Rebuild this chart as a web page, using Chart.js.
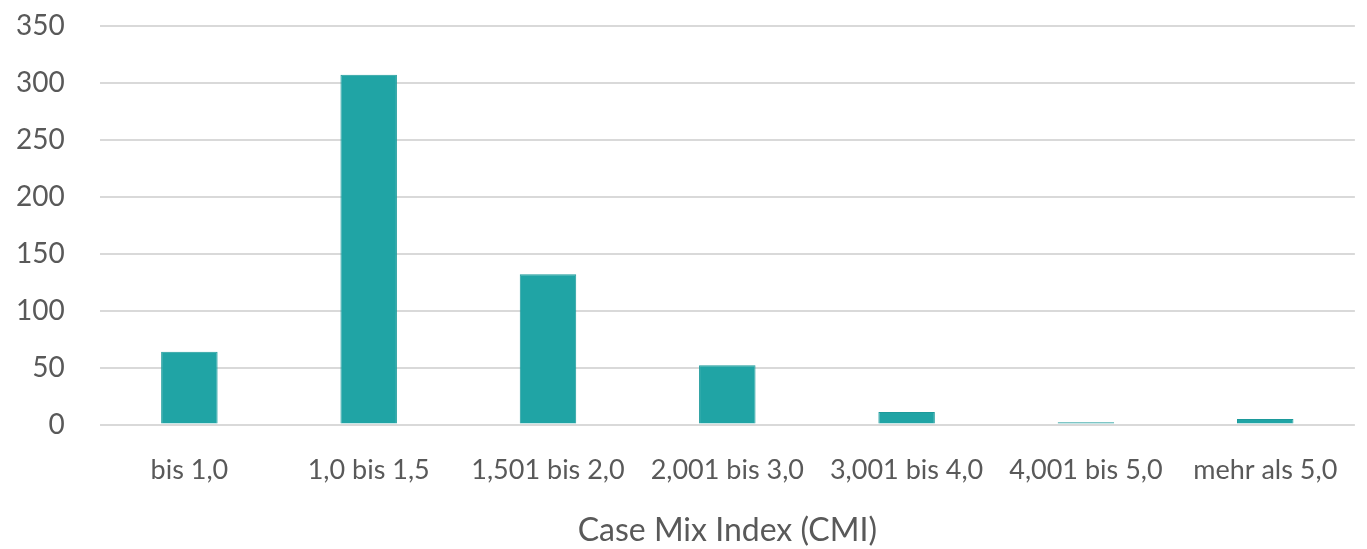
<!DOCTYPE html>
<html>
<head>
<meta charset="utf-8">
<script src="https://cdn.jsdelivr.net/npm/chart.js@4/dist/chart.umd.min.js"></script>
<style>
  html, body { margin: 0; padding: 0; background: #fff; overflow: hidden; }
  #wrap { width: 1396px; height: 577px; margin-top: -26px; margin-left: -29px; position: relative; }
</style>
</head>
<body>
<div id="wrap"><canvas id="cmi-chart"></canvas></div>
<script>
  // Data
  var categories = ['bis 1,0', '1,0 bis 1,5', '1,501 bis 2,0', '2,001 bis 3,0', '3,001 bis 4,0', '4,001 bis 5,0', 'mehr als 5,0'];
  var counts = [64, 307, 132, 52, 11, 2, 5];
  var yTicks = [0, 50, 100, 150, 200, 250, 300, 350];
  var xTitle = 'Case Mix Index (CMI)';

  var textColor = '#595959';
  var fontFamily = 'Lato, "Open Sans", sans-serif';

  new Chart(document.getElementById('cmi-chart'), {
    type: 'bar',
    data: {
      labels: categories,
      datasets: [{
        data: counts,
        backgroundColor: '#20a4a5',
        borderColor: '#1c9a9b',
        borderWidth: 1,
        barPercentage: 0.315,
        categoryPercentage: 1
      }]
    },
    options: {
      responsive: true, maintainAspectRatio: false, animation: false,
      layout: { padding: { top: 0, right: 10, left: 10, bottom: 4 } },
      plugins: { legend: { display: false }, tooltip: { enabled: false } },
      scales: {
        x: {
          grid: { display: false, drawTicks: false },
          border: { display: false },
          ticks: { color: textColor, font: { family: fontFamily, size: 27 }, padding: 29, maxRotation: 0, autoSkip: false },
          title: { display: true, text: xTitle, color: textColor, font: { family: fontFamily, size: 32, lineHeight: 1 }, padding: { top: 0, bottom: 0 } }
        },
        y: {
          min: 0, max: 350,
          afterBuildTicks: function (axis) { axis.ticks = yTicks.map(function (v) { return { value: v }; }); },
          grid: { color: '#d9d9d9', lineWidth: 2, drawTicks: false },
          border: { display: false },
          ticks: { color: textColor, font: { family: fontFamily, size: 28 }, padding: 35 }
        }
      }
    }
  });
</script>
</body>
</html>
